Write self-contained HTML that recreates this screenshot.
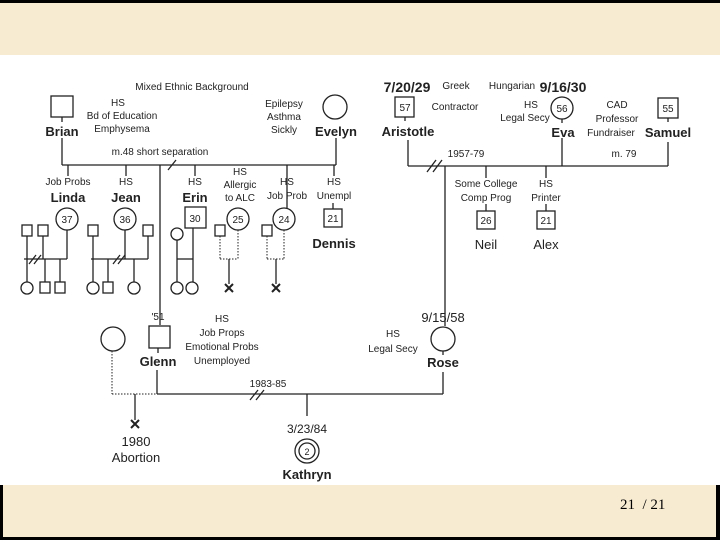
<!DOCTYPE html>
<html><head><meta charset="utf-8"><style>
html,body{margin:0;padding:0;background:#000;}
#w{position:relative;width:720px;height:540px;overflow:hidden;background:#000;}
.b1{position:absolute;left:0;top:3px;width:720px;height:52px;background:#f7ebd2;}
.wh{position:absolute;left:0;top:55px;width:720px;height:430px;background:#fff;}
.b2{position:absolute;left:3px;top:485px;width:713px;height:52px;background:#f7ebd2;}
.pg{position:absolute;left:620px;top:497px;font:15px "Liberation Serif",serif;color:#000;}
svg{position:absolute;left:0;top:0;}
text{font-family:"Liberation Sans",sans-serif;fill:#222;text-anchor:middle;}
.s{font-size:10px;}
.n{font-size:13px;font-weight:bold;}
.d{font-size:14px;font-weight:bold;}
</style></head><body><div id="w">
<div class="b1"></div><div class="wh"></div><div class="b2"></div>
<div class="pg">21 &nbsp;/ 21</div>
<svg width="720" height="540" stroke="#222" fill="none" stroke-width="1.3">
<rect x="51" y="96" width="22" height="21" fill="#fff"/>
<line x1="62" y1="117" x2="62" y2="122"/>
<circle cx="335" cy="107" r="12" fill="#fff"/>
<line x1="62" y1="138" x2="62" y2="165"/>
<line x1="336" y1="138" x2="336" y2="165"/>
<line x1="62" y1="165" x2="336" y2="165"/>
<line x1="168" y1="170" x2="176" y2="160"/>
<line x1="160" y1="165" x2="160" y2="325"/>
<line x1="68" y1="165" x2="68" y2="176"/><line x1="126" y1="165" x2="126" y2="176"/>
<line x1="195" y1="165" x2="195" y2="176"/><line x1="287" y1="165" x2="287" y2="176"/><line x1="334" y1="165" x2="334" y2="176"/>
<circle cx="67" cy="219" r="11" fill="#fff"/>
<rect x="22" y="225" width="10" height="11"/><rect x="38" y="225" width="10" height="11"/>
<line x1="27" y1="236" x2="27" y2="259"/><line x1="43" y1="236" x2="43" y2="259"/><line x1="67" y1="230" x2="67" y2="259"/>
<line x1="24" y1="259" x2="67" y2="259"/>
<line x1="29" y1="264" x2="36" y2="255"/><line x1="34" y1="264" x2="41" y2="255"/>
<line x1="27" y1="259" x2="27" y2="282"/><line x1="45" y1="259" x2="45" y2="282"/><line x1="60" y1="259" x2="60" y2="282"/>
<circle cx="27" cy="288" r="6"/><rect x="40" y="282" width="10" height="11"/><rect x="55" y="282" width="10" height="11"/>
<circle cx="125" cy="219" r="11" fill="#fff"/>
<rect x="88" y="225" width="10" height="11"/><rect x="143" y="225" width="10" height="11"/>
<line x1="93" y1="236" x2="93" y2="259"/><line x1="125" y1="230" x2="125" y2="259"/><line x1="148" y1="236" x2="148" y2="259"/>
<line x1="91" y1="259" x2="148" y2="259"/>
<line x1="113" y1="264" x2="120" y2="255"/><line x1="118" y1="264" x2="125" y2="255"/>
<line x1="93" y1="259" x2="93" y2="282"/><line x1="108" y1="259" x2="108" y2="282"/><line x1="134" y1="259" x2="134" y2="282"/>
<circle cx="93" cy="288" r="6"/><rect x="103" y="282" width="10" height="11"/><circle cx="134" cy="288" r="6"/>
<rect x="185" y="207" width="21" height="21" fill="#fff"/>
<circle cx="177" cy="234" r="6"/>
<line x1="177" y1="240" x2="177" y2="282"/><line x1="193" y1="228" x2="193" y2="282"/>
<line x1="177" y1="259" x2="193" y2="259"/>
<circle cx="177" cy="288" r="6"/><circle cx="192" cy="288" r="6"/>
<circle cx="238" cy="219" r="11" fill="#fff"/>
<rect x="215" y="225" width="10" height="11"/>
<g stroke-dasharray="1.5,1.5" stroke-width="1"><line x1="220" y1="236" x2="220" y2="259"/><line x1="238" y1="230" x2="238" y2="259"/><line x1="220" y1="259" x2="238" y2="259"/></g>
<line x1="229" y1="259" x2="229" y2="284"/>
<path d="M225 284 L233 292 M233 284 L225 292" stroke-width="2"/>
<circle cx="284" cy="219" r="11" fill="#fff"/>
<line x1="287" y1="176" x2="287" y2="208"/>
<rect x="262" y="225" width="10" height="11"/>
<g stroke-dasharray="1.5,1.5" stroke-width="1"><line x1="267" y1="236" x2="267" y2="259"/><line x1="284" y1="230" x2="284" y2="259"/><line x1="267" y1="259" x2="284" y2="259"/></g>
<line x1="276" y1="259" x2="276" y2="284"/>
<path d="M272 284 L280 292 M280 284 L272 292" stroke-width="2"/>
<line x1="333" y1="203" x2="333" y2="209"/>
<rect x="324" y="209" width="18" height="18" fill="#fff"/>
<rect x="149" y="326" width="21" height="22" fill="#fff"/>
<line x1="158" y1="348" x2="158" y2="353"/>
<circle cx="113" cy="339" r="12"/>
<g stroke-dasharray="1.5,1.5" stroke-width="1"><line x1="112" y1="351" x2="112" y2="394"/><line x1="112" y1="394" x2="157" y2="394"/></g>
<line x1="135" y1="394" x2="135" y2="420"/>
<path d="M131 420 L139 428 M139 420 L131 428" stroke-width="2"/>
<line x1="157" y1="370" x2="157" y2="394"/>
<line x1="157" y1="394" x2="443" y2="394"/>
<line x1="443" y1="372" x2="443" y2="394"/>
<line x1="250" y1="400" x2="258" y2="390"/><line x1="256" y1="400" x2="264" y2="390"/>
<line x1="307" y1="394" x2="307" y2="416"/>
<circle cx="307" cy="451" r="12"/><circle cx="307" cy="451" r="8"/>
<circle cx="443" cy="339" r="12" fill="#fff"/>
<line x1="443" y1="351" x2="443" y2="355"/>
<rect x="395" y="97" width="19" height="20" fill="#fff"/>
<line x1="405" y1="117" x2="405" y2="121"/>
<circle cx="562" cy="108" r="11" fill="#fff"/>
<line x1="562" y1="119" x2="562" y2="123"/>
<rect x="658" y="98" width="20" height="20" fill="#fff"/>
<line x1="668" y1="118" x2="668" y2="122"/>
<line x1="408" y1="140" x2="408" y2="166"/>
<line x1="408" y1="166" x2="668" y2="166"/>
<line x1="562" y1="138" x2="562" y2="166"/>
<line x1="668" y1="142" x2="668" y2="166"/>
<line x1="427" y1="172" x2="436" y2="160"/><line x1="433" y1="172" x2="442" y2="160"/>
<line x1="445" y1="166" x2="445" y2="326"/>
<line x1="486" y1="166" x2="486" y2="178"/><line x1="546" y1="166" x2="546" y2="178"/>
<line x1="486" y1="204" x2="486" y2="211"/><line x1="546" y1="204" x2="546" y2="211"/>
<rect x="477" y="211" width="18" height="18" fill="#fff"/>
<rect x="537" y="211" width="18" height="18" fill="#fff"/>
<g stroke="none">
<text class="s" x="192" y="90">Mixed Ethnic Background</text>
<text class="s" x="118" y="106">HS</text><text class="s" x="122" y="119">Bd of Education</text><text class="s" x="122" y="132">Emphysema</text>
<text class="n" x="62" y="136">Brian</text>
<text class="s" x="284" y="107">Epilepsy</text><text class="s" x="284" y="120">Asthma</text><text class="s" x="284" y="133">Sickly</text>
<text class="n" x="336" y="136">Evelyn</text>
<text class="s" x="160" y="155">m.48 short separation</text>
<text class="s" x="68" y="185">Job Probs</text><text class="n" x="68" y="202">Linda</text><text class="s" x="67" y="223">37</text>
<text class="s" x="126" y="185">HS</text><text class="n" x="126" y="202">Jean</text><text class="s" x="125" y="223">36</text>
<text class="s" x="195" y="185">HS</text><text class="n" x="195" y="202">Erin</text><text class="s" x="195" y="222">30</text>
<text class="s" x="240" y="175">HS</text><text class="s" x="240" y="188">Allergic</text><text class="s" x="240" y="201">to ALC</text><text class="s" x="238" y="223">25</text>
<text class="s" x="287" y="185">HS</text><text class="s" x="287" y="199">Job Prob</text><text class="s" x="284" y="223">24</text>
<text class="s" x="334" y="185">HS</text><text class="s" x="334" y="199">Unempl</text><text class="s" x="333" y="222">21</text>
<text class="n" x="334" y="248">Dennis</text>
<text class="s" x="158" y="320">'51</text>
<text class="n" x="158" y="366">Glenn</text>
<text class="s" x="222" y="322">HS</text><text class="s" x="222" y="336">Job Props</text><text class="s" x="222" y="350">Emotional Probs</text><text class="s" x="222" y="364">Unemployed</text>
<text class="s" x="268" y="387">1983-85</text>
<text class="n" x="136" y="446" style="font-weight:normal">1980</text>
<text class="n" x="136" y="462" style="font-weight:normal">Abortion</text>
<text class="s" x="307" y="433" style="font-size:12px">3/23/84</text>
<text class="s" x="307" y="455" style="font-size:9px">2</text>
<text class="n" x="307" y="479">Kathryn</text>
<text class="n" x="443" y="322" style="font-weight:normal">9/15/58</text>
<text class="s" x="393" y="337">HS</text><text class="s" x="393" y="352">Legal Secy</text>
<text class="n" x="443" y="367">Rose</text>
<text class="d" x="407" y="92">7/20/29</text>
<text class="s" x="456" y="89">Greek</text>
<text class="s" x="455" y="110">Contractor</text>
<text class="s" x="405" y="111">57</text>
<text class="n" x="408" y="136">Aristotle</text>
<text class="s" x="512" y="89">Hungarian</text>
<text class="d" x="563" y="92">9/16/30</text>
<text class="s" x="531" y="108">HS</text><text class="s" x="525" y="121">Legal Secy</text>
<text class="s" x="562" y="112">56</text>
<text class="n" x="563" y="137">Eva</text>
<text class="s" x="617" y="108">CAD</text><text class="s" x="617" y="122">Professor</text><text class="s" x="611" y="136">Fundraiser</text>
<text class="s" x="668" y="112">55</text>
<text class="n" x="668" y="137">Samuel</text>
<text class="s" x="466" y="157">1957-79</text>
<text class="s" x="624" y="157">m. 79</text>
<text class="s" x="486" y="187">Some College</text><text class="s" x="486" y="201">Comp Prog</text>
<text class="s" x="546" y="187">HS</text><text class="s" x="546" y="201">Printer</text>
<text class="s" x="486" y="224">26</text><text class="s" x="546" y="224">21</text>
<text class="n" x="486" y="249" style="font-weight:normal">Neil</text>
<text class="n" x="546" y="249" style="font-weight:normal">Alex</text>
</g>
</svg>
</div></body></html>
